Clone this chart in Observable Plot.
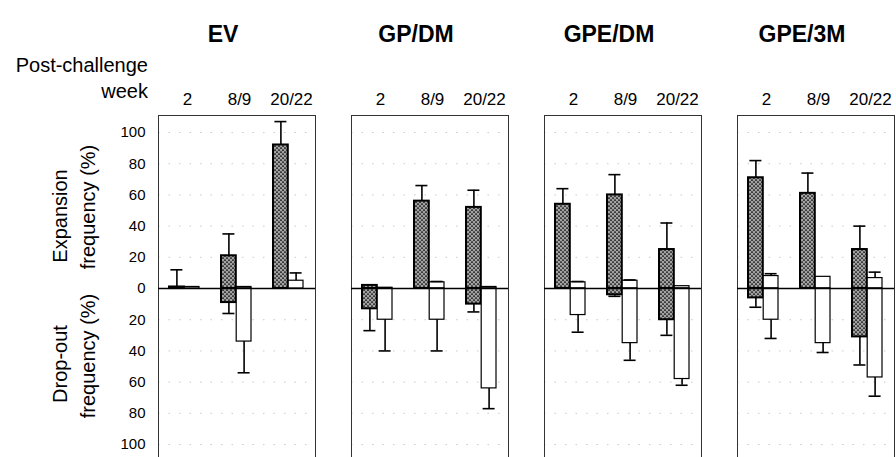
<!DOCTYPE html>
<html>
<head>
<meta charset="utf-8">
<script src="https://cdn.jsdelivr.net/npm/d3@7"></script>
<script src="https://cdn.jsdelivr.net/npm/@observablehq/plot@0.6"></script>
<style>
  html, body { margin: 0; padding: 0; background: white; }
  #chart { width: 896px; height: 457px; overflow: hidden; }
</style>
</head>
<body>
<div id="chart"></div>
<script>
// ---- data ----
const panels = ["EV", "GP/DM", "GPE/DM", "GPE/3M"];
const weeks = ["2", "8/9", "20/22"];
const yTicks = [-100, -80, -60, -40, -20, 0, 20, 40, 60, 80, 100];

// order: panel-major, 3 weeks per panel
const darkExp      = [1, 21, 92,   2, 56, 52,   54, 60, 25,   71, 61, 25];
const darkExpErr   = [12, 35, 107, 2, 66, 63,   64, 73, 42,   82, 74, 40];
const darkDrop     = [0, 9, 0,     13, 0, 10,   0, 4, 20,     6, 0, 31];
const darkDropErr  = [0, 16, 0,    27, 0, 15,   0, 5, 30,     12, 0, 49];
const whiteExp     = [1, 1, 5,     0.5, 4, 1,   4, 5, 1.5,    8, 7.5, 6.7];
const whiteExpErr  = [1, 1, 10,    0.5, 4.5, 1, 4.5, 5.5, 1.5, 9.5, 7.5, 10.5];
const whiteDrop    = [0, 34, 0,    20, 20, 64,  17, 35, 58,   20, 35, 57];
const whiteDropErr = [0, 54, 0,    40, 40, 77,  28, 46, 62,   32, 41, 69];

const rows = panels.flatMap((p, i) => weeks.map((w, j) => ({panel: p, week: w, k: i * 3 + j})));

const half = 15.2;   // half of the group band
const off = 7.6;     // offset of each bar centre from the group centre

function bars(vals, sign, side, dark) {
  return Plot.rectY(rows, {
    fx: "panel", x: "week",
    y1: 0, y2: d => sign * vals[d.k],
    filter: d => vals[d.k] > 0,
    insetLeft: side > 0 ? half : 0,
    insetRight: side < 0 ? half : 0,
    fill: dark ? "url(#stip)" : "white",
    stroke: "black",
    strokeWidth: dark ? 2 : 1.2
  });
}
function errs(vals, errv, sign, side) {
  return [
    Plot.ruleX(rows, {
      fx: "panel", x: "week",
      y1: d => sign * vals[d.k], y2: d => sign * errv[d.k],
      filter: d => errv[d.k] > vals[d.k] + 0.3,
      dx: side * off, stroke: "black", strokeWidth: 1.6
    }),
    Plot.tickY(rows, {
      fx: "panel", x: "week",
      y: d => sign * errv[d.k],
      filter: d => errv[d.k] > vals[d.k] + 0.3,
      dx: side * off, insetLeft: 9, insetRight: 9,
      stroke: "black", strokeWidth: 1.6
    })
  ];
}

const chart = Plot.plot({
  width: 896,
  height: 457,
  marginLeft: 157,
  marginRight: 2,
  marginTop: 115,
  marginBottom: 0,
  style: {fontFamily: "'Liberation Sans', Arial, sans-serif", background: "white", color: "black"},
  fx: {domain: panels, paddingInner: 0.187, paddingOuter: 0, axis: null, label: null},
  x: {domain: weeks, paddingInner: 0.42, paddingOuter: 0.21, axis: null},
  y: {domain: [-108.3, 110.9], label: null},
  marks: [
    Plot.gridY(yTicks.filter(t => t !== 0), {stroke: "#888", strokeOpacity: 0.45, strokeDasharray: "1.5,9"}),
    Plot.axisY({ticks: yTicks, tickFormat: d => Math.abs(d), tickSize: 0, tickPadding: 13, fontSize: 15, label: null}),
    Plot.frame({anchor: "top", stroke: "#333"}),
    Plot.frame({anchor: "left", stroke: "#333"}),
    Plot.frame({anchor: "right", stroke: "#333"}),
    bars(darkExp, 1, -1, true),
    bars(darkDrop, -1, -1, true),
    bars(whiteExp, 1, 1, false),
    bars(whiteDrop, -1, 1, false),
    ...errs(darkExp, darkExpErr, 1, -1),
    ...errs(darkDrop, darkDropErr, -1, -1),
    ...errs(whiteExp, whiteExpErr, 1, 1),
    ...errs(whiteDrop, whiteDropErr, -1, 1),
    Plot.ruleY([0], {stroke: "black", strokeWidth: 1.5}),
    Plot.text(panels, {fx: d => d, text: d => d, frameAnchor: "top", dy: -90, dx: -14, fontSize: 23, fontWeight: "bold"}),
    Plot.text(weeks, {x: d => d, text: d => d, frameAnchor: "top", dy: -23, dx: 3, fontSize: 17})
  ]
});

document.getElementById("chart").appendChild(chart);

// stipple pattern for the dark bars
const svg = d3.select(chart);
const defs = svg.insert("defs", ":first-child");
const pat = defs.append("pattern").attr("id", "stip")
  .attr("width", 4).attr("height", 4).attr("patternUnits", "userSpaceOnUse");
pat.append("rect").attr("width", 4).attr("height", 4).attr("fill", "#a2a2a2");
[[0,0],[2,1],[1,2],[3,3],[3,0],[0,3],[2,2],[1,1]].forEach(([x, y], i) =>
  pat.append("rect").attr("x", x).attr("y", y).attr("width", 1).attr("height", 1)
    .attr("fill", i % 2 ? "#5a5a5a" : "#3c3c3c"));

// left-hand labels
const ff = "'Liberation Sans', Arial, sans-serif";
svg.append("text").attr("x", 148).attr("y", 72).attr("text-anchor", "end")
  .attr("font-family", ff).attr("font-size", 20).attr("fill", "black").text("Post-challenge");
svg.append("text").attr("x", 148).attr("y", 98).attr("text-anchor", "end")
  .attr("font-family", ff).attr("font-size", 20).attr("fill", "black").text("week");
function rot(txt, cx, cy) {
  svg.append("text")
    .attr("transform", `translate(${cx},${cy}) rotate(-90)`)
    .attr("text-anchor", "middle").attr("dy", "0.35em")
    .attr("font-family", ff).attr("font-size", 20).attr("fill", "black")
    .text(txt);
}
rot("Expansion", 60, 216);
rot("frequency (%)", 88, 207);
rot("Drop-out", 60, 364);
rot("frequency (%)", 88, 356);
</script>
</body>
</html>
